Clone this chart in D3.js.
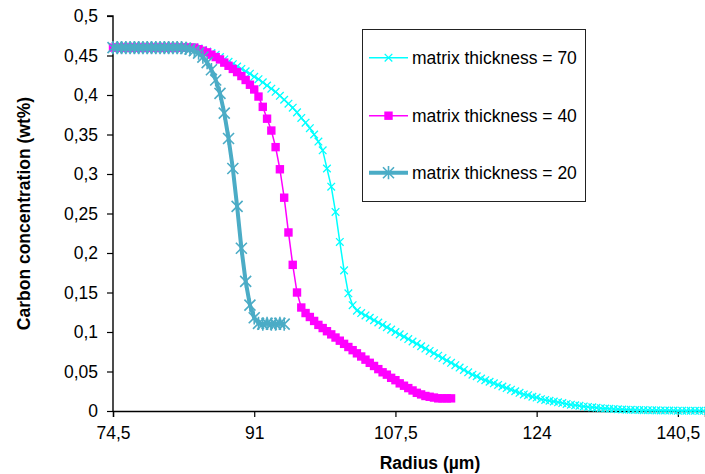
<!DOCTYPE html>
<html><head><meta charset="utf-8">
<script src="https://cdn.jsdelivr.net/npm/d3@7"></script>
<style>
html,body{margin:0;padding:0;background:#fff;}
svg{display:block;font-family:"Liberation Sans",Arial,sans-serif;}
</style></head>
<body>
<svg id="chart" width="705" height="474"></svg>
<script>
// ---- data ----
const xTicks = [74.5, 91, 107.5, 124, 140.5];
const yTicks = [0, 0.05, 0.1, 0.15, 0.2, 0.25, 0.3, 0.35, 0.4, 0.45, 0.5];
const seriesNames = ["matrix thickness = 70", "matrix thickness = 40", "matrix thickness = 20"];
const radiusStart = 74.5, radiusStep = 0.5;

const c70 = [
 0.46,0.46,0.46,0.46,0.46,0.46,0.46,0.46,0.46,0.46,0.46,0.46,0.46,0.46,0.46,0.46,0.46,0.46,0.46,0.46,
 0.459,0.457,0.455,0.453,0.451,0.448,0.445,0.442,0.439,0.436,0.433,0.430,0.427,0.423,0.420,0.416,0.412,0.408,0.404,0.399,
 0.394,0.389,0.384,0.378,0.371,0.365,0.358,0.350,0.341,0.330,0.307,0.284,0.252,0.214,0.178,0.149,0.134,0.127,0.124,0.121,
 0.118,0.115,0.112,0.109,0.106,0.103,0.100,0.097,0.094,0.091,0.088,0.085,0.082,0.079,0.076,0.073,0.070,0.067,0.064,0.061,
 0.058,0.055,0.052,0.049,0.046,0.044,0.041,0.039,0.037,0.035,0.033,0.031,0.029,0.027,0.025,0.023,0.021,0.020,0.018,0.017,
 0.015,0.014,0.013,0.012,0.011,0.010,0.009,0.008,0.0072,0.0065,0.0058,0.0052,0.0046,0.0041,0.0036,0.0032,0.0028,0.0025,0.0022,0.0019,
 0.0017,0.0015,0.0013,0.0012,0.0011,0.001,0.0009,0.0008,0.0007,0.0006,0.0005,0.0005,0.0004,0.0004,0.0003,0.0003,0.0003,0.0002,0.0002,0.0002,
 0.0002
];
const c40 = [
 0.46,0.46,0.46,0.46,0.46,0.46,0.46,0.46,0.46,0.46,0.46,0.46,0.46,0.46,0.46,0.46,0.46,0.46,0.46,0.46,
 0.458,0.456,0.454,0.451,0.448,0.445,0.441,0.437,0.433,0.429,0.424,0.419,0.413,0.407,0.398,0.385,0.370,0.355,0.334,0.306,
 0.270,0.226,0.185,0.150,0.131,0.124,0.119,0.114,0.109,0.105,0.101,0.097,0.093,0.089,0.085,0.081,0.077,0.073,0.069,0.065,
 0.061,0.057,0.053,0.049,0.046,0.042,0.039,0.035,0.032,0.029,0.026,0.023,0.021,0.019,0.018,0.017,0.016,0.016,0.016,0.016
];
const c20 = [
 0.46,0.46,0.46,0.46,0.46,0.46,0.46,0.46,0.46,0.46,0.46,0.46,0.46,0.46,0.46,0.46,0.46,0.459,0.458,0.456,
 0.453,0.448,0.441,0.432,0.419,0.402,0.377,0.345,0.307,0.259,0.206,0.164,0.134,0.118,0.111,0.110,0.111,0.110,0.110,0.111,
 0.110
];

// ---- layout ----
const W = 705, H = 474;
const x = d3.scaleLinear().domain([74.5, 143.67]).range([113, 705]);
const y = d3.scaleLinear().domain([0, 0.5]).range([411, 16]);
const fmt = d => String(d).replace(".", ",");

const svg = d3.select("#chart");
svg.append("rect").attr("width", W).attr("height", H).attr("fill", "#fff");

const toPts = arr => arr.map((v, i) => ({r: radiusStart + i * radiusStep, c: v}));

// axes
const FS = 17.5;
const yAxis = svg.append("g").attr("transform", `translate(${x(74.5)},0)`)
  .call(d3.axisLeft(y).tickValues(yTicks).tickFormat(fmt).tickSize(6).tickPadding(9));
const xAxis = svg.append("g").attr("transform", `translate(0,${y(0)})`)
  .call(d3.axisBottom(x).tickValues(xTicks).tickFormat(fmt).tickSize(6).tickPadding(10));
[yAxis, xAxis].forEach(g => {
  g.select(".domain").attr("stroke", "#000").attr("stroke-width", 1.4);
  g.selectAll(".tick line").attr("stroke", "#000").attr("stroke-width", 1.2);
  g.selectAll(".tick text").attr("fill", "#000").style("font-size", FS + "px")
    .style("font-family", '"Liberation Sans",Arial,sans-serif');
});
yAxis.select(".domain").attr("d", `M-6,${y(0.5)}H0V${y(0)}`);

// axis titles
svg.append("text").attr("x", 430).attr("y", 469)
  .attr("text-anchor", "middle").attr("font-weight", "bold").attr("font-size", FS)
  .text("Radius (\u00b5m)");
svg.append("text").attr("transform", `translate(30,${(y(0)+y(0.5))/2}) rotate(-90)`)
  .attr("text-anchor", "middle").attr("font-weight", "bold").attr("font-size", FS)
  .text("Carbon concentration (wt%)");

// series
const line = d3.line().x(d => x(d.r)).y(d => y(d.c));
const styles = [
  {data: c70, color: "#00FFFF", lw: 1.5, marker: "x"},
  {data: c40, color: "#FF00FF", lw: 1.5, marker: "sq"},
  {data: c20, color: "#4BACC6", lw: 4, marker: "star"}
];
function drawMarker(g, type, color) {
  if (type === "x") {
    const s = 3.8;
    g.append("path").attr("d", `M${-s},${-s}L${s},${s}M${-s},${s}L${s},${-s}`)
      .attr("stroke", color).attr("stroke-width", 1.3).attr("fill", "none");
  } else if (type === "sq") {
    g.append("rect").attr("x", -4.2).attr("y", -4.2).attr("width", 8.4).attr("height", 8.4).attr("fill", color);
  } else {
    const s = 5.5;
    g.append("path").attr("d", `M${-s},${-s}L${s},${s}M${-s},${s}L${s},${-s}M0,${-s*1.2}V${s*1.2}`)
      .attr("stroke", color).attr("stroke-width", 1.6).attr("fill", "none");
  }
}
styles.forEach(st => {
  const pts = toPts(st.data);
  const g = svg.append("g");
  g.append("path").datum(pts).attr("d", line).attr("fill", "none")
    .attr("stroke", st.color).attr("stroke-width", st.lw).attr("stroke-linejoin", "round");
  pts.forEach(p => {
    const mg = g.append("g").attr("transform", `translate(${x(p.r)},${y(p.c)})`);
    drawMarker(mg, st.marker, st.color);
  });
});

// legend
const lg = svg.append("g");
lg.append("rect").attr("x", 362.5).attr("y", 29.5).attr("width", 223).attr("height", 172)
  .attr("fill", "#fff").attr("stroke", "#222").attr("stroke-width", 1);
const legendY = [57.7, 115.7, 172.7];
styles.forEach((st, i) => {
  const yy = legendY[i];
  lg.append("line").attr("x1", 369).attr("x2", 408).attr("y1", yy).attr("y2", yy)
    .attr("stroke", st.color).attr("stroke-width", st.lw);
  const mg = lg.append("g").attr("transform", `translate(388.5,${yy})`);
  drawMarker(mg, st.marker, st.color);
  lg.append("text").attr("x", 412).attr("y", yy).attr("dy", "0.36em")
    .attr("font-size", FS).attr("fill", "#000").text(seriesNames[i]);
});
</script>
</body></html>
